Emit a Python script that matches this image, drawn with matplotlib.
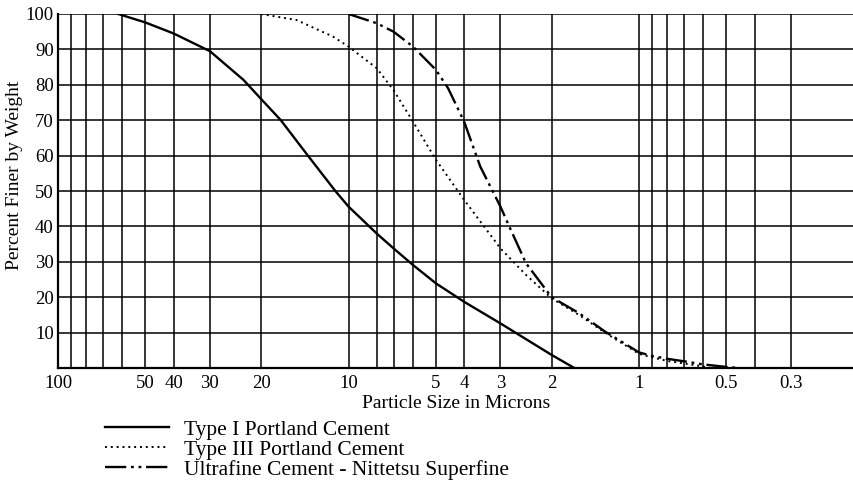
import matplotlib.pyplot as plt
from matplotlib.lines import Line2D

plt.rcParams['font.family'] = ['Liberation Serif', 'DejaVu Serif']

# particle size (microns) and percent finer
type1_size = [62, 50, 40, 30, 23, 20, 17.1, 13.8, 11.1, 10, 8, 7, 6, 5, 4, 3, 2, 1.67]
type1_pct = [100, 97.6, 94.5, 89.5, 81.4, 76, 70, 60, 50, 45.6, 38.0, 33.8, 29.1, 23.9, 18.7, 12.6, 3.7, 0]

type3_size = [20, 15.1, 11.3, 10, 8, 7, 6, 5, 4, 3, 2.45, 2, 1.61, 1.31, 1, 0.9, 0.8, 0.7, 0.6, 0.57]
type3_pct = [100, 98.3, 93.6, 90.8, 84.7, 78.5, 69.6, 58.8, 47.5, 33.8, 26.3, 19.7, 15.0, 10.0, 4.0, 3.0, 2.0, 1.3, 0.4, 0]

ultra_size = [10, 8, 7, 6, 5, 4.54, 4, 3.52, 3, 2.78, 2.45, 2, 1.61, 1.31, 1, 0.9, 0.8, 0.7, 0.6, 0.5, 0.45]
ultra_pct = [100, 97.4, 95, 90.8, 84.2, 79, 69.6, 56.9, 45.6, 39.5, 29.6, 20, 15.5, 10.3, 4.4, 3.4, 2.6, 1.9, 1.0, 0.3, 0]

labels = ['Type I Portland Cement', 'Type III Portland Cement',
          'Ultrafine Cement - Nittetsu Superfine']

major_x = [100, 50, 40, 30, 20, 10, 5, 4, 3, 2, 1, 0.5, 0.3]
major_x_labels = ['100', '50', '40', '30', '20', '10', '5', '4', '3', '2', '1', '0.5', '0.3']
minor_x = [90, 80, 70, 60, 8, 7, 6, 0.9, 0.8, 0.7, 0.6, 0.4]
y_ticks = [10, 20, 30, 40, 50, 60, 70, 80, 90, 100]

fig = plt.figure(figsize=(8.54, 4.96), dpi=100)
ax = fig.add_axes([58 / 854, 1 - 368 / 496, 796 / 854, 354 / 496])

ax.set_xscale('log')
ax.set_xlim(100, 0.182)
ax.set_ylim(0, 100)

ax.set_xticks(major_x)
ax.set_xticklabels(major_x_labels)
ax.set_xticks(minor_x, minor=True)
ax.set_xticklabels([], minor=True)
ax.set_yticks(y_ticks)
ax.set_yticklabels([str(v) for v in y_ticks])
ax.tick_params(which='both', length=0, labelsize=13.5, colors='black')
ax.tick_params(axis='x', pad=5)
ax.tick_params(axis='y', pad=3)

ax.grid(True, which='both', color='black', linewidth=1.1)
ax.set_axisbelow(True)
for side in ['right', 'top']:
    ax.spines[side].set_visible(False)
for side in ['left', 'bottom']:
    ax.spines[side].set_linewidth(1.6)

styles = ['-', (0, (1, 2)), (0, (9, 2, 1.2, 2, 1.2, 2))]
lws = [1.7, 1.4, 1.7]
series = [(type1_size, type1_pct), (type3_size, type3_pct), (ultra_size, ultra_pct)]
for (xs, ys), ls, lw in zip(series, styles, lws):
    ax.plot(xs, ys, color='black', linestyle=ls, linewidth=lw)

ax.set_xlabel('Particle Size in Microns', fontsize=14, labelpad=2)
ax.set_ylabel('Percent Finer by Weight', fontsize=14)
ax.yaxis.set_label_coords(-35 / 796, 0.545)

handles = [Line2D([], [], color='black', linestyle=ls, linewidth=lw) for ls, lw in zip(styles, lws)]
fig.legend(handles, labels, loc='upper left', bbox_to_anchor=(94 / 854, 1 - 409 / 496),
           frameon=False, fontsize=15.5, handlelength=3.0, handletextpad=0.7,
           labelspacing=0.0, borderpad=0)

fig.savefig('out.png', dpi=100)
